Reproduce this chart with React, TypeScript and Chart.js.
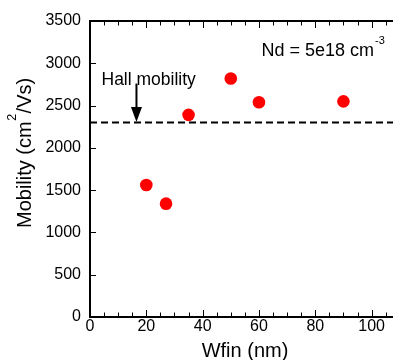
import React, { useEffect, useRef } from "react";
import { Chart, registerables } from "chart.js";

Chart.register(...registerables);

// ---- data ----
const wfin = [20, 27, 35, 50, 60, 90];
const mobility = [1560, 1340, 2390, 2820, 2540, 2550];
const hallMobility = 2300;
const xRange = [0, 107.6];
const yRange = [0, 3500];
const xTickStep = 20;
const xMinorStep = 5;
const yTickStep = 500;
const arrowX = 16.5;
const arrowTopY = 2760;

const xTitle = "Wfin (nm)";
const yTitleMain = "Mobility (cm";
const yTitleSup = "2";
const yTitleEnd = "/Vs)";
const hallLabel = "Hall mobility";
const ndLabelMain = "Nd = 5e18 cm";
const ndLabelSup = "-3";

const FONT = "'Liberation Sans', Arial, Helvetica, sans-serif";

const framePlugin = {
  id: "frame",
  afterDraw(chart: any) {
    const ctx = chart.ctx as CanvasRenderingContext2D;
    const xs = chart.scales.x;
    const ys = chart.scales.y;
    const a = chart.chartArea;
    ctx.save();
    ctx.strokeStyle = "#000";
    ctx.fillStyle = "#000";

    // axes lines
    ctx.lineWidth = 2;
    ctx.beginPath();
    ctx.moveTo(a.left, a.top - 1);
    ctx.lineTo(a.left, a.bottom + 1);
    ctx.moveTo(a.left - 1, a.bottom);
    ctx.lineTo(a.right, a.bottom);
    ctx.moveTo(a.left - 1, a.top);
    ctx.lineTo(a.right, a.top);
    ctx.stroke();

    // x ticks (bottom and top, inward)
    ctx.lineWidth = 1;
    ctx.beginPath();
    for (let v = xRange[0]; v <= xRange[1] + 1e-9; v += xMinorStep) {
      const px = Math.round(xs.getPixelForValue(v)) + 0.5;
      const major = Math.abs(v % xTickStep) < 1e-9;
      const len = major ? 6 : 3.5;
      ctx.moveTo(px, a.bottom - 1);
      ctx.lineTo(px, a.bottom - 1 - len);
      ctx.moveTo(px, a.top + 1);
      ctx.lineTo(px, a.top + 1 + len);
    }
    // y ticks (left, inward)
    for (let v = yRange[0]; v <= yRange[1] + 1e-9; v += yTickStep) {
      const py = Math.round(ys.getPixelForValue(v)) + 0.5;
      ctx.moveTo(a.left + 1, py);
      ctx.lineTo(a.left + 6, py);
    }
    ctx.stroke();

    // arrow
    const ax = xs.getPixelForValue(arrowX);
    const atop = ys.getPixelForValue(arrowTopY);
    const tip = ys.getPixelForValue(hallMobility) - 0.5;
    ctx.lineWidth = 2;
    ctx.beginPath();
    ctx.moveTo(ax, atop);
    ctx.lineTo(ax, tip - 12);
    ctx.stroke();
    ctx.beginPath();
    ctx.moveTo(ax - 5.5, tip - 15);
    ctx.lineTo(ax + 5.5, tip - 15);
    ctx.lineTo(ax, tip);
    ctx.closePath();
    ctx.fill();

    // annotation texts
    ctx.textBaseline = "alphabetic";
    ctx.textAlign = "left";
    ctx.font = `17.5px ${FONT}`;
    ctx.fillText(hallLabel, 101.5, 84.5);

    ctx.font = `18px ${FONT}`;
    ctx.fillText(ndLabelMain, 261.5, 56);
    const ndw = ctx.measureText(ndLabelMain).width;
    ctx.font = `11px ${FONT}`;
    ctx.fillText(ndLabelSup, 261.5 + ndw + 1, 43.5);

    // x title
    ctx.font = `20px ${FONT}`;
    ctx.textAlign = "center";
    ctx.fillText(xTitle, 245, 357);

    // y title (rotated)
    ctx.save();
    ctx.translate(31, 228);
    ctx.rotate(-Math.PI / 2);
    ctx.textAlign = "left";
    ctx.font = `20px ${FONT}`;
    ctx.fillText(yTitleMain, 0, 0);
    const w1 = ctx.measureText(yTitleMain).width;
    ctx.font = `12.5px ${FONT}`;
    ctx.fillText(yTitleSup, w1 + 0.5, -15.5);
    const w2 = ctx.measureText(yTitleSup).width;
    ctx.font = `20px ${FONT}`;
    ctx.fillText(yTitleEnd, w1 + w2 + 1, 0);
    ctx.restore();

    ctx.restore();
  },
};

export default function App() {
  const ref = useRef<HTMLCanvasElement | null>(null);

  useEffect(() => {
    if (!ref.current) return;
    const chart = new Chart(ref.current, {
      type: "scatter",
      data: {
        datasets: [
          {
            type: "line",
            data: [
              { x: xRange[0], y: hallMobility },
              { x: xRange[1], y: hallMobility },
            ],
            borderColor: "#000",
            borderWidth: 2,
            borderDash: [7, 4],
            pointRadius: 0,
            fill: false,
            order: 2,
          } as any,
          {
            data: wfin.map((x, i) => ({ x, y: mobility[i] })),
            backgroundColor: "#ff0000",
            borderColor: "#ff0000",
            borderWidth: 0,
            pointRadius: 6.3,
            pointHoverRadius: 6.3,
            order: 1,
          },
        ],
      },
      options: {
        responsive: false,
        animation: false,
        events: [],
        layout: { autoPadding: false, padding: { top: 21, right: 0, left: 0, bottom: 0 } },
        plugins: { legend: { display: false }, tooltip: { enabled: false } },
        scales: {
          x: {
            type: "linear",
            position: "bottom",
            min: xRange[0],
            max: xRange[1],
            grid: { display: false, drawTicks: false },
            border: { display: false },
            ticks: {
              stepSize: xTickStep,
              includeBounds: false,
              padding: 0,
              color: "#000",
              maxRotation: 0,
              autoSkip: false,
              font: { family: FONT, size: 16 },
              callback: (v: any) => String(v),
            },
            afterFit: (s: any) => {
              s.height = 43;
              s.paddingRight = 0;
              s.paddingLeft = 0;
            },
          },
          y: {
            type: "linear",
            min: yRange[0],
            max: yRange[1],
            grid: { display: false, drawTicks: false },
            border: { display: false },
            ticks: {
              stepSize: yTickStep,
              padding: 9,
              color: "#000",
              autoSkip: false,
              font: { family: FONT, size: 16 },
              callback: (v: any) => String(v),
            },
            afterFit: (s: any) => {
              s.width = 90;
              s.paddingTop = 0;
              s.paddingBottom = 0;
            },
          },
        },
      },
      plugins: [framePlugin],
    });
    return () => chart.destroy();
  }, []);

  return (
    <div style={{ position: "absolute", left: 0, top: 0, width: 393, height: 360 }}>
      <canvas ref={ref} width={393} height={360} style={{ display: "block" }} />
    </div>
  );
}
